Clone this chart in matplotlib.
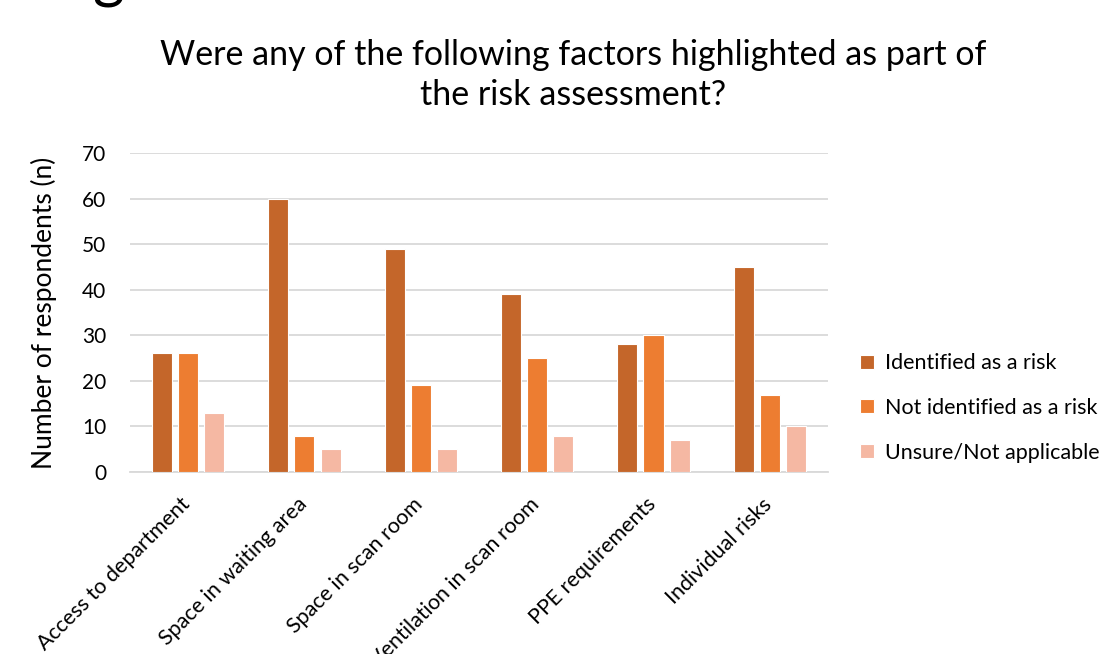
import matplotlib
matplotlib.use("Agg")
import matplotlib.pyplot as plt
import matplotlib.transforms as mtransforms
import numpy as np

categories = ["Access to department", "Space in waiting area", "Space in scan room",
              "Ventilation in scan room", "PPE requirements", "Individual risks"]
series_names = ["Identified as a risk", "Not identified as a risk", "Unsure/Not applicable"]
identified = [26, 60, 49, 39, 28, 45]
not_identified = [26, 8, 19, 25, 30, 17]
unsure = [13, 5, 5, 8, 7, 10]
yticks = [0, 10, 20, 30, 40, 50, 60, 70]

colors = ["#C4662A", "#ED7D31", "#F5B8A3"]

plt.rcParams['font.family'] = ['Lato', 'DejaVu Sans']

fig = plt.figure(figsize=(11.08, 6.54), dpi=100)
ax = fig.add_axes([0.1173, 0.2783, 0.630, 0.4878])

x = np.arange(len(categories))
w = 0.172
off = 0.224
for i, (vals, name, c) in enumerate(zip([identified, not_identified, unsure], series_names, colors)):
    ax.bar(x + (i - 1) * off, vals, width=w, color=c, edgecolor='white', linewidth=0.8,
           label=name, zorder=3)

ax.set_xlim(-0.5, len(categories) - 0.5)
ax.set_ylim(0, 70)
ax.set_yticks(yticks)
ax.set_yticklabels([str(t) for t in yticks], fontsize=15)
ax.yaxis.grid(True, color='#D9D9D9', linewidth=1.3, zorder=0)
ax.set_axisbelow(True)
for s in ['top', 'right', 'left']:
    ax.spines[s].set_visible(False)
ax.spines['bottom'].set_color('#D9D9D9')
ax.spines['bottom'].set_linewidth(1.3)
ax.tick_params(axis='y', length=0, pad=17)
ax.set_xticks(x)
ax.set_xticklabels(categories, rotation=45, ha='right', va='top', rotation_mode='anchor',
                   fontsize=15.5)
ax.tick_params(axis='x', length=0, pad=16)
shift = mtransforms.ScaledTranslation(-8 / 100, 0, fig.dpi_scale_trans)
for lab in ax.get_xticklabels():
    lab.set_transform(lab.get_transform() + shift)
ax.set_ylabel("Number of respondents (n)", fontsize=19, labelpad=18)

fig.text(0.517, 0.885, "Were any of the following factors highlighted as part of\nthe risk assessment?",
         ha='center', va='center', fontsize=24.5, linespacing=1.32)

fig.text(0.083, 1 + 3 / 654, "g", ha='left', va='baseline', fontsize=44)

ax.legend(loc='center left', bbox_to_anchor=(1.031, 0.2006), frameon=False, fontsize=15.5,
          borderpad=0, handlelength=0.63, handleheight=0.63, handletextpad=0.5,
          labelspacing=1.15)

fig.savefig("out.png", dpi=100)
